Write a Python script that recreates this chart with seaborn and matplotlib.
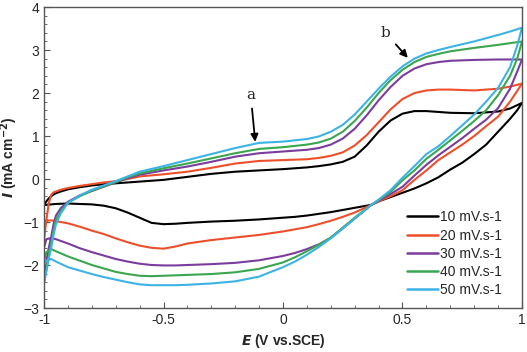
import matplotlib
matplotlib.use("Agg")
import matplotlib.pyplot as plt
from matplotlib.ticker import MultipleLocator
import seaborn as sns
import pandas as pd

# scan rates and colours
labels = ["10 mV.s-1", "20 mV.s-1", "30 mV.s-1", "40 mV.s-1", "50 mV.s-1"]
colors = ["#000000", "#ee4f2b", "#7a3d9e", "#3aa650", "#3cb3e4"]

# forward (anodic) scan, E from -1 to 1
e_up = [-1.0, -0.99, -0.98, -0.97, -0.96, -0.95, -0.93, -0.9, -0.85, -0.8, -0.75, -0.7,
        -0.65, -0.6, -0.5, -0.4, -0.3, -0.2, -0.1, 0.0, 0.1, 0.15, 0.2, 0.25, 0.3,
        0.35, 0.4, 0.45, 0.5, 0.55, 0.6, 0.65, 0.7, 0.8, 0.9, 0.95, 1.0]
i_up_10 = [-0.6, -0.52, -0.45, -0.4, -0.36, -0.33, -0.29, -0.24, -0.19, -0.15, -0.12, -0.1,
           -0.08, -0.06, -0.02, 0.05, 0.12, 0.17, 0.2, 0.23, 0.27, 0.3, 0.34, 0.4, 0.52,
           0.78, 1.1, 1.36, 1.52, 1.58, 1.58, 1.56, 1.54, 1.53, 1.57, 1.64, 1.77]
i_up_20 = [-1.4, -0.95, -0.56, -0.37, -0.31, -0.29, -0.25, -0.21, -0.16, -0.12, -0.08, -0.05,
           0.0, 0.06, 0.11, 0.17, 0.26, 0.36, 0.42, 0.44, 0.46, 0.49, 0.54, 0.62, 0.78,
           1.02, 1.32, 1.62, 1.86, 2.0, 2.06, 2.08, 2.08, 2.06, 2.1, 2.15, 2.22]
i_up_30 = [-2.2, -1.9, -1.6, -1.35, -1.05, -0.85, -0.68, -0.53, -0.38, -0.28, -0.18, -0.08,
           0.02, 0.1, 0.2, 0.29, 0.4, 0.52, 0.6, 0.64, 0.68, 0.72, 0.8, 0.94, 1.17,
           1.48, 1.83, 2.14, 2.4, 2.57, 2.67, 2.72, 2.75, 2.77, 2.78, 2.78, 2.78]
i_up_40 = [-2.42, -2.1, -1.8, -1.5, -1.2, -0.95, -0.75, -0.55, -0.4, -0.27, -0.17, -0.07,
           0.04, 0.13, 0.25, 0.36, 0.48, 0.6, 0.7, 0.74, 0.8, 0.85, 0.94, 1.1, 1.35,
           1.66, 2.0, 2.3, 2.54, 2.72, 2.84, 2.91, 2.97, 3.05, 3.12, 3.16, 3.2]
i_up_50 = [-2.4, -2.15, -1.85, -1.6, -1.3, -1.05, -0.8, -0.56, -0.38, -0.25, -0.15, -0.05,
           0.06, 0.17, 0.3, 0.44, 0.58, 0.72, 0.84, 0.87, 0.93, 0.99, 1.1, 1.26, 1.5,
           1.8, 2.1, 2.38, 2.62, 2.8, 2.92, 3.0, 3.07, 3.2, 3.35, 3.43, 3.52]

# reverse (cathodic) scan, E from 1 back to -1
e_down = [1.0, 0.98, 0.95, 0.9, 0.85, 0.8, 0.75, 0.7, 0.65, 0.6, 0.55, 0.5, 0.45, 0.4,
          0.37, 0.3, 0.25, 0.2, 0.15, 0.1, 0.05, 0.0, -0.1, -0.2, -0.3, -0.4, -0.45,
          -0.5, -0.55, -0.6, -0.65, -0.7, -0.75, -0.8, -0.85, -0.9, -0.95, -0.97, -0.99, -1.0]
i_down_10 = [1.77, 1.6, 1.4, 1.1, 0.8, 0.58, 0.38, 0.22, 0.04, -0.1, -0.22, -0.32, -0.42, -0.52,
             -0.6, -0.67, -0.72, -0.77, -0.81, -0.85, -0.88, -0.9, -0.94, -0.97, -0.99, -1.02, -1.04,
             -1.05, -1.02, -0.9, -0.78, -0.68, -0.62, -0.59, -0.58, -0.57, -0.58, -0.59, -0.6, -0.6]
i_down_20 = [2.22, 2.05, 1.8, 1.45, 1.23, 1.0, 0.8, 0.62, 0.44, 0.2, -0.02, -0.26, -0.4, -0.52,
             -0.6, -0.78, -0.88, -0.97, -1.05, -1.12, -1.17, -1.22, -1.3, -1.36, -1.42, -1.5, -1.57,
             -1.62, -1.6, -1.55, -1.47, -1.38, -1.28, -1.2, -1.11, -1.03, -0.98, -0.96, -0.97, -1.0]
i_down_30 = [2.78, 2.5, 2.1, 1.65, 1.38, 1.17, 0.95, 0.75, 0.55, 0.33, 0.08, -0.18, -0.35, -0.5,
             -0.6, -0.92, -1.15, -1.37, -1.52, -1.63, -1.72, -1.79, -1.89, -1.95, -1.98, -2.0, -2.01,
             -2.01, -2.0, -1.97, -1.92, -1.86, -1.78, -1.7, -1.61, -1.5, -1.4, -1.37, -1.4, -1.6]
i_down_40 = [3.2, 2.8, 2.4, 1.95, 1.6, 1.35, 1.12, 0.9, 0.68, 0.47, 0.2, -0.03, -0.3, -0.49,
             -0.6, -0.9, -1.13, -1.36, -1.53, -1.68, -1.82, -1.94, -2.09, -2.17, -2.21, -2.23, -2.24,
             -2.25, -2.26, -2.25, -2.21, -2.16, -2.08, -2.0, -1.9, -1.8, -1.68, -1.63, -1.7, -1.9]
i_down_50 = [3.52, 3.1, 2.6, 2.12, 1.8, 1.5, 1.25, 1.0, 0.76, 0.58, 0.3, 0.03, -0.26, -0.48,
             -0.6, -0.92, -1.15, -1.38, -1.58, -1.76, -1.92, -2.05, -2.27, -2.38, -2.43, -2.46, -2.47,
             -2.47, -2.47, -2.45, -2.4, -2.34, -2.28, -2.21, -2.13, -2.05, -1.92, -1.86, -1.9, -2.0]

i_up = [i_up_10, i_up_20, i_up_30, i_up_40, i_up_50]
i_down = [i_down_10, i_down_20, i_down_30, i_down_40, i_down_50]

rows = []
for lab, iu, idn in zip(labels, i_up, i_down):
    for e, i in zip(e_up + e_down, iu + idn):
        rows.append({"E": e, "I": i, "rate": lab})
df = pd.DataFrame(rows)

sns.set_style("ticks")
plt.rcParams["font.family"] = ["Liberation Sans", "DejaVu Sans"]

fig = plt.figure(figsize=(5.27, 3.52), dpi=100)
ax = fig.add_axes([0.0835, 0.125, 0.907, 0.855])

# sort=False keeps the scan order so each loop is drawn as a closed CV
sns.lineplot(data=df, x="E", y="I", hue="rate", palette=colors, sort=False,
             estimator=None, linewidth=1.5, ax=ax)

ax.set_xlim(-1, 1)
ax.set_ylim(-3, 4)
ax.xaxis.set_major_locator(MultipleLocator(0.5))
ax.xaxis.set_minor_locator(MultipleLocator(0.1))
ax.yaxis.set_major_locator(MultipleLocator(1))
ax.yaxis.set_minor_locator(MultipleLocator(0.2))
ax.xaxis.set_major_formatter(plt.FuncFormatter(lambda v, p: f"{v:g}"))
ax.tick_params(which="both", direction="in", labelsize=10, color="#555555")
ax.tick_params(which="major", length=4)
ax.tick_params(which="minor", length=2.5)
for s in ax.spines.values():
    s.set_color("#555555")
    s.set_linewidth(1)

ax.set_xlabel(r"$\mathbfit{E}$ (V vs.SCE)", fontsize=10, fontweight="bold", labelpad=4)
ax.set_ylabel(r"$\mathbfit{I}$ (mA cm$^{\mathbf{-2}}$)", fontsize=10, fontweight="bold", labelpad=2)

leg = ax.legend(loc="lower right", frameon=False, fontsize=10, handlelength=2.2,
                handletextpad=0.2, labelspacing=0.3, bbox_to_anchor=(0.985, -0.005))
for h in leg.get_lines():
    h.set_linewidth(1.8)

ax.annotate("a", xy=(-0.115, 0.8), xytext=(-0.135, 1.85), fontsize=11, family="DejaVu Serif",
            ha="center", arrowprops=dict(arrowstyle="-|>", color="black", lw=1.3))
ax.annotate("b", xy=(0.53, 2.77), xytext=(0.43, 3.3), fontsize=11, family="DejaVu Serif",
            ha="center", arrowprops=dict(arrowstyle="-|>", color="black", lw=1.3))

fig.savefig("out.png", dpi=100)
